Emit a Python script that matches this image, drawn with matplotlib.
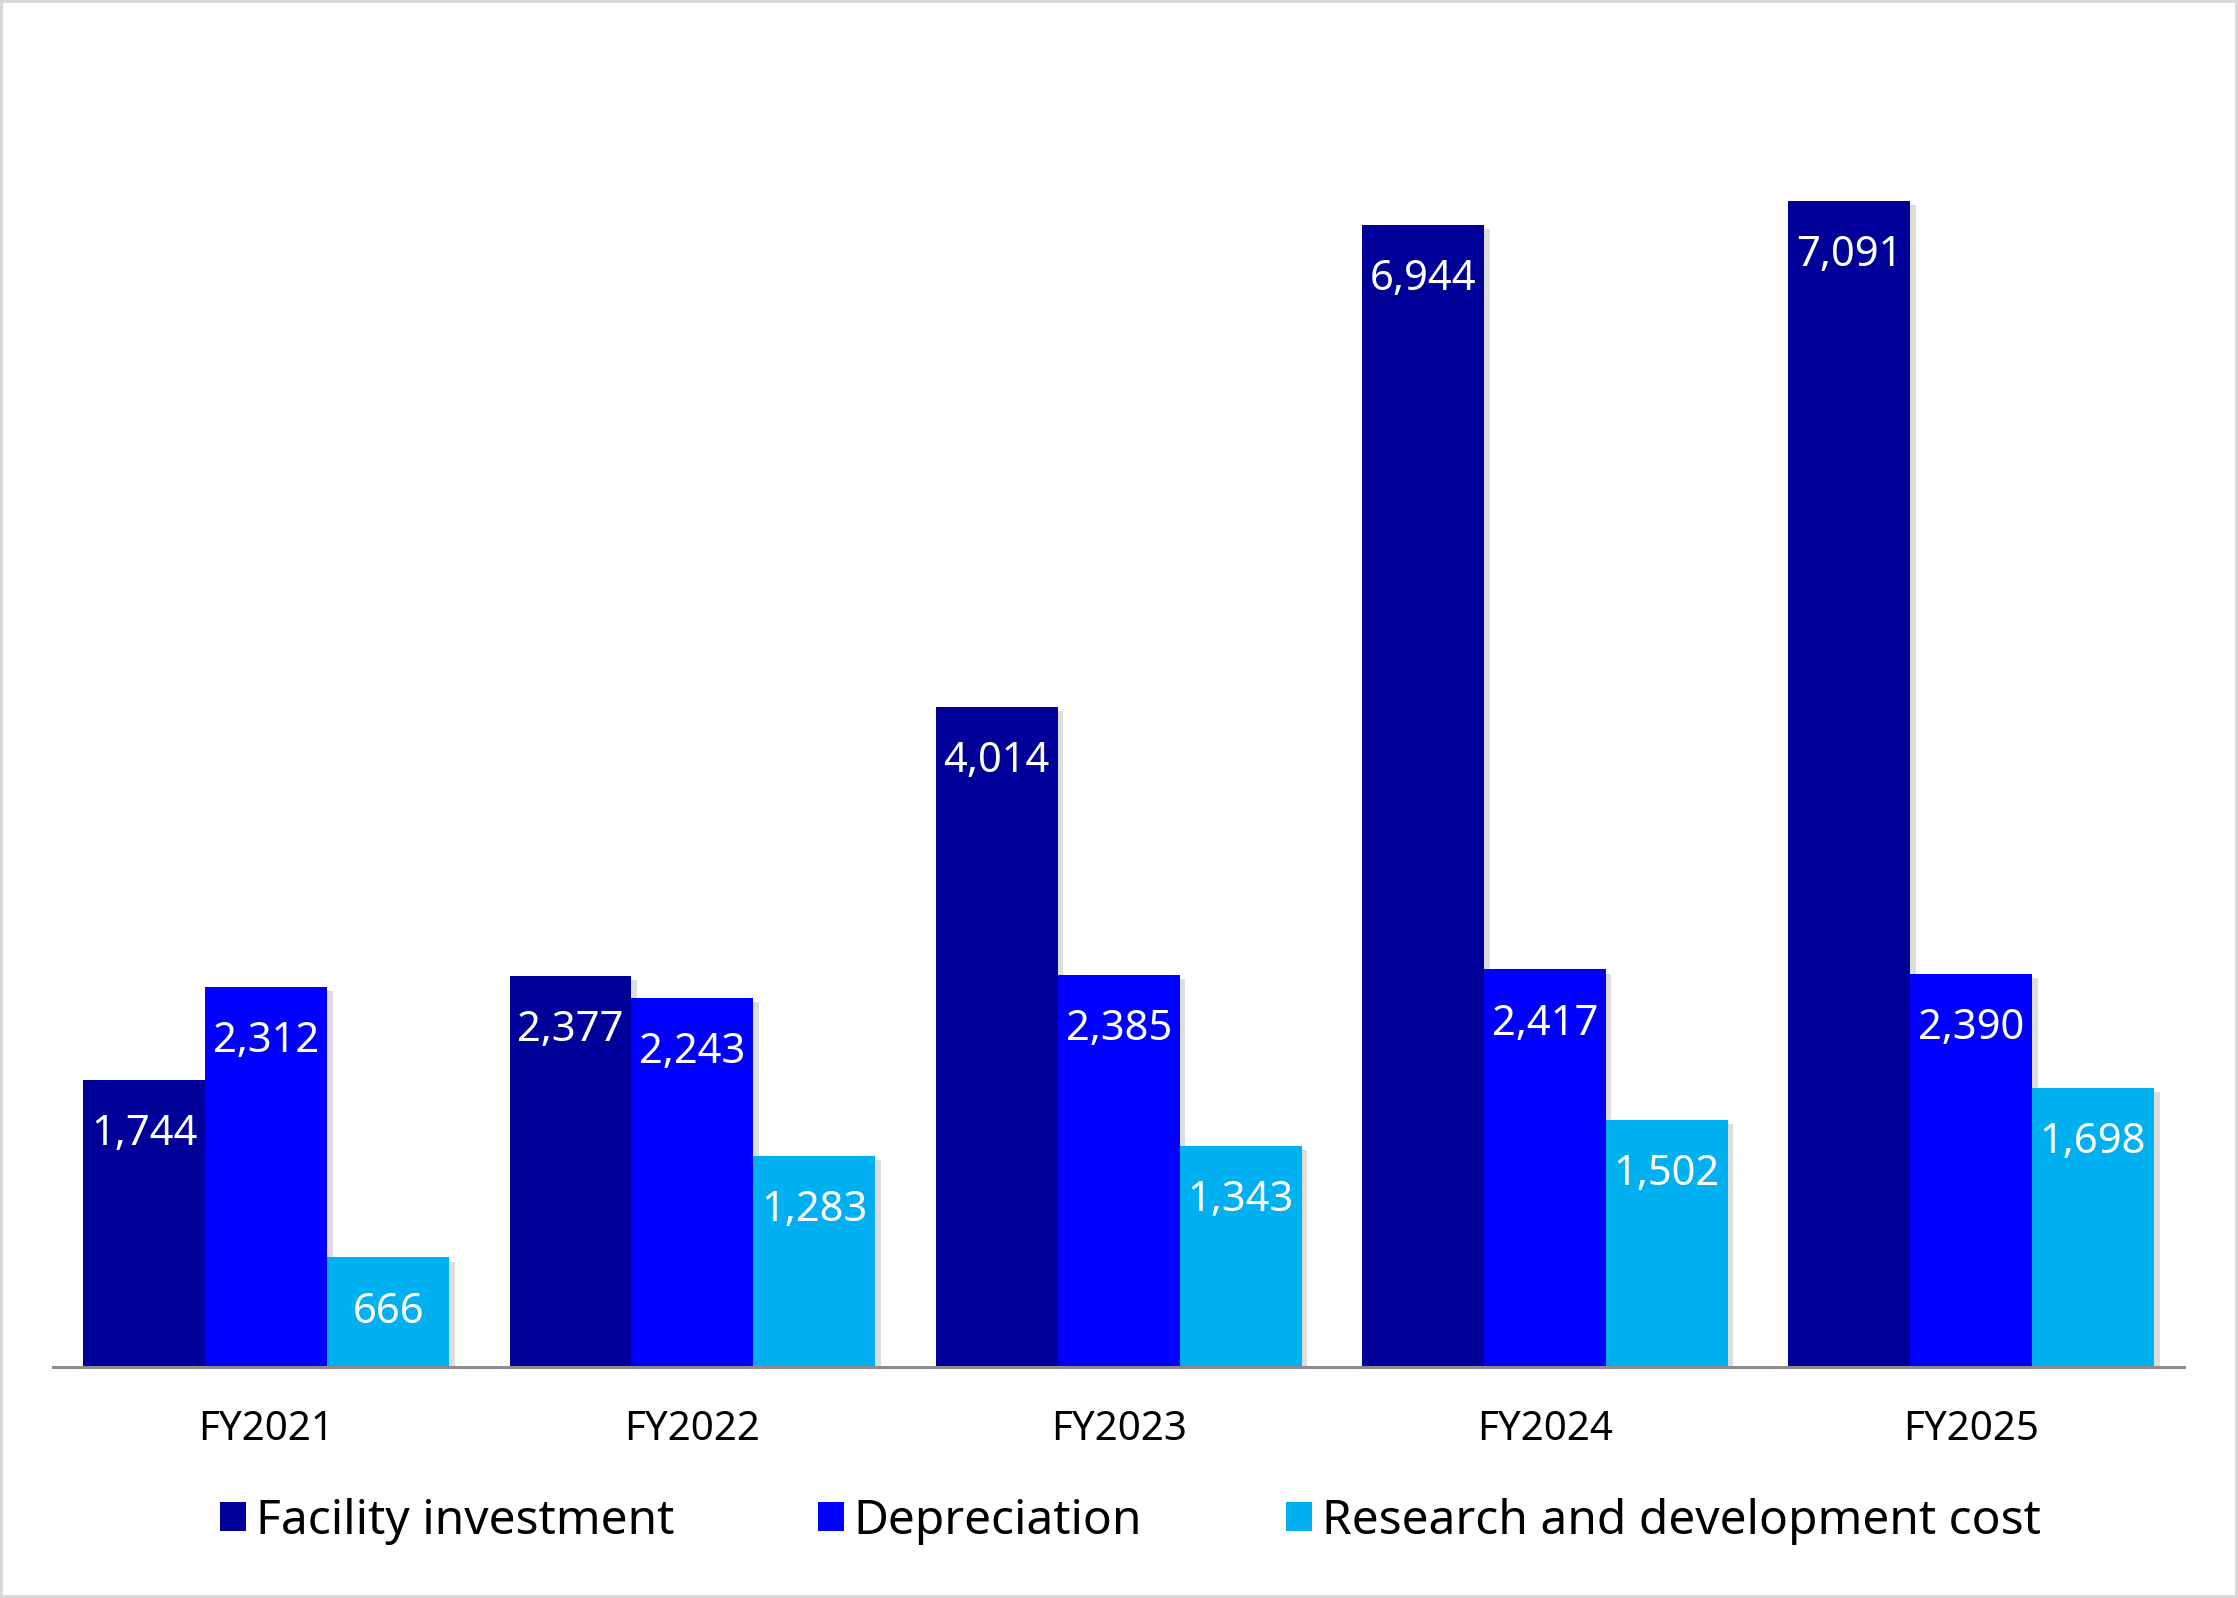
import numpy as np
import matplotlib
matplotlib.use("Agg")
import matplotlib.pyplot as plt
import matplotlib.patheffects as pe
from matplotlib.patches import Patch

plt.rcParams['font.family'] = ['Noto Sans', 'DejaVu Sans']

years = ['FY2021', 'FY2022', 'FY2023', 'FY2024', 'FY2025']
facility = [1744, 2377, 4014, 6944, 7091]
depreciation = [2312, 2243, 2385, 2417, 2390]
rnd = [666, 1283, 1343, 1502, 1698]
series_names = ['Facility investment', 'Depreciation', 'Research and development cost']
colors = ['#000099', '#0000FF', '#00B0F0']

fig = plt.figure(figsize=(22.38, 15.98), dpi=100)
fig.patch.set_edgecolor('#d9d9d9')
fig.patch.set_linewidth(4)
ax = fig.add_axes([0.0237, 0.1446, 0.9523, 0.8234])

x = np.arange(len(years))
w = 0.286
shadow = [pe.SimplePatchShadow(offset=(4, -3), shadow_rgbFace='#8f8f8f', alpha=0.3), pe.Normal()]

for i, vals in enumerate([facility, depreciation, rnd]):
    bars = ax.bar(x + (i - 1) * w, vals, w, color=colors[i], zorder=2)
    for b in bars:
        b.set_path_effects(shadow)
    for b, v in zip(bars, vals):
        ax.annotate(f'{v:,}', (b.get_x() + b.get_width() / 2, v), xytext=(0, -39),
                    textcoords='offset points', ha='center', va='center',
                    color='white', fontsize=30, zorder=3)

ax.set_xlim(-0.5, 4.5)
ax.set_ylim(0, 8000)
ax.set_xticks(x)
ax.set_xticklabels(years, fontsize=29)
ax.tick_params(axis='x', length=0, pad=31)
ax.set_yticks([])
for s in ['top', 'right', 'left']:
    ax.spines[s].set_visible(False)
ax.spines['bottom'].set_color('#8c8c8c')
ax.spines['bottom'].set_linewidth(2.2)
ax.spines['bottom'].set_zorder(4)

handles = [Patch(facecolor=c, label=n) for c, n in zip(colors, series_names)]
fig.legend(handles=handles, loc='center', bbox_to_anchor=(0.505, 0.048), ncol=3,
           frameon=False, fontsize=34.5, handlelength=0.55, handleheight=0.55,
           handletextpad=0.2, columnspacing=3.0)

fig.savefig('out.png', dpi=100)
